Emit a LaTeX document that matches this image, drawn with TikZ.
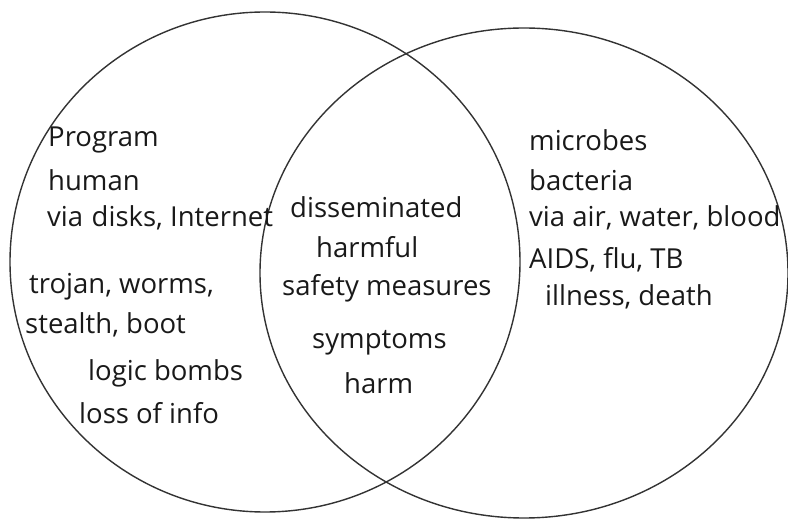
\documentclass[tikz,border=0pt]{standalone}
\usepackage{fontspec}
\setmainfont{Open Sans}
\begin{document}
\begin{tikzpicture}[x=1pt,y=-1pt,
  ring/.style={draw=black!80,line width=1.4pt},
  lbl/.style={anchor=west,inner sep=0pt,font=\fontsize{27.5}{30}\selectfont,text=black!90}]
\useasboundingbox (0,0) rectangle (788,521);
\draw[ring] (265,262) ellipse [x radius=255,y radius=250];
\draw[ring] (524,273) ellipse [x radius=264,y radius=245];
\node[lbl] (p1) at (48,140) {Program};
\node[lbl] (p2) at (48,180) {human};
\node[lbl] (p3) at (47,218) {via\hspace{0.05em} disks, Internet};
\node[lbl] (p4) at (29,287) {trojan, worms,};
\node[lbl] (p5) at (25,325) {stealth, boot};
\node[lbl] (p6) at (88,373) {logic bombs};
\node[lbl] (p7) at (79,413) {loss of info};
\node[lbl] (c1) at (290,207) {disseminated};
\node[lbl] (c2) at (316,247) {harmful};
\node[lbl] (c3) at (282,288) {safety measures};
\node[lbl] (c4) at (312,343) {symptoms};
\node[lbl] (c5) at (344,383) {harm};
\node[lbl] (b1) at (529,140) {microbes};
\node[lbl] (b2) at (529,180) {bacteria};
\node[lbl] (b3) at (529,218) {via air, water, blood};
\node[lbl] (b4) at (529,260) {AIDS, flu, TB};
\node[lbl] (b5) at (545,297) {illness, death};
\end{tikzpicture}
\end{document}
